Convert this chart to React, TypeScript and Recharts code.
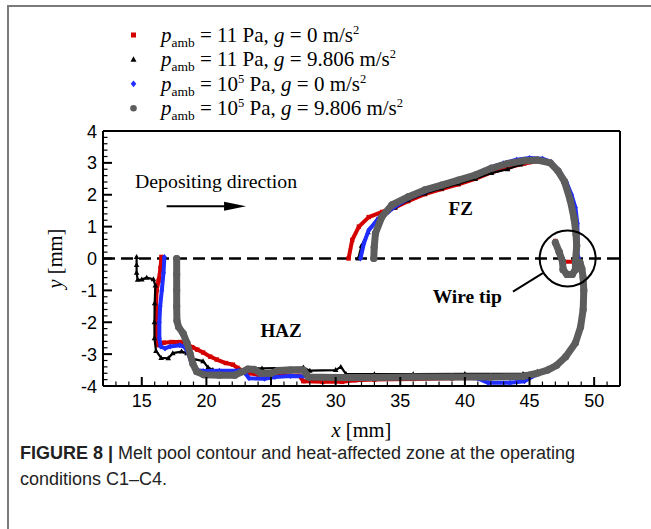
import React from 'react';
import { ScatterChart, Scatter, XAxis, YAxis, ReferenceLine, ReferenceDot, Legend } from 'recharts';

type XY = [number, number];

// ---- series (x [mm], y [mm]) ----
const redC1: XY[] = [
  [16.52, 0.05], [16.45, -0.3], [16.3, -0.7], [16.15, -1.0], [16.1, -1.5], [16.1, -2.0], [16.12, -2.5], [16.28, -2.72],
  [16.7, -2.64], [17.3, -2.62], [17.95, -2.62], [18.45, -2.67], [18.9, -2.78], [19.3, -2.86], [19.75, -2.95], [20.3, -3.08],
  [20.8, -3.17], [21.5, -3.28], [22.05, -3.33], [22.4, -3.43], [22.8, -3.52], [23.2, -3.6], [24.0, -3.64], [25.0, -3.65],
  [26.0, -3.66], [27.2, -3.68], [27.5, -3.85], [29.0, -3.87], [30.5, -3.87], [31.5, -3.82], [33.0, -3.8], [36.0, -3.78],
  [39.0, -3.76], [42.0, -3.75], [44.5, -3.72], [45.6, -3.62], [46.4, -3.52], [47.1, -3.36], [47.8, -3.1], [48.5, -2.68],
  [48.9, -2.2], [49.1, -1.6], [49.15, -1.0], [49.1, -0.6], [49.0, -0.32], [48.85, -0.12], [48.55, -0.12], [48.55, -0.35],
  [48.3, -0.5], [47.9, -0.5], [47.6, -0.35], [47.55, -0.1], [47.3, 0.2], [47.0, 0.55], [47.3, 0.2], [47.55, -0.1],
  [48.55, -0.1], [48.6, 0.4], [48.55, 0.75], [48.4, 1.25], [48.1, 1.83], [47.65, 2.42], [47.15, 2.75], [46.55, 2.98],
  [45.8, 3.06], [45.0, 3.02], [44.6, 2.98], [43.3, 2.85], [42.05, 2.7], [40.8, 2.5], [39.5, 2.33], [38.2, 2.18],
  [36.9, 2.02], [35.6, 1.8], [34.6, 1.6], [33.6, 1.46], [32.56, 1.3], [31.8, 1.0], [31.28, 0.58], [31.0, 0.0],
];

const blackC2: XY[] = [
  [14.6, 0.05], [14.6, -0.2], [14.6, -0.45], [14.68, -0.67], [15.0, -0.66], [15.38, -0.6], [15.9, -0.65], [16.05, -0.85],
  [16.0, -1.4], [15.98, -2.0], [15.98, -2.5], [16.1, -2.9], [16.5, -3.12], [17.05, -3.13], [17.4, -2.97], [18.08, -2.92],
  [18.5, -2.97], [18.97, -3.15], [19.74, -3.22], [20.13, -3.42], [20.5, -3.5], [22.5, -3.52], [23.5, -3.45], [24.3, -3.45],
  [27.5, -3.42], [28.0, -3.52], [30.0, -3.5], [30.4, -3.4], [30.8, -3.62], [33.0, -3.63], [36.0, -3.63], [40.0, -3.62],
  [44.5, -3.62], [45.6, -3.55], [46.4, -3.45], [47.1, -3.3], [47.8, -3.03], [48.5, -2.6], [48.9, -2.15], [49.1, -1.6],
  [49.15, -1.0], [49.1, -0.6], [49.0, -0.32], [48.85, -0.1], [48.65, 0.05], [48.62, 0.5], [48.5, 1.0], [48.35, 1.4],
  [48.1, 1.83], [47.65, 2.42], [47.15, 2.75], [46.55, 2.98], [45.9, 3.07], [45.0, 3.03], [44.3, 2.95], [43.3, 2.8],
  [42.05, 2.68], [40.8, 2.5], [39.5, 2.35], [38.2, 2.2], [36.9, 2.04], [35.6, 1.83], [34.6, 1.6], [34.0, 1.5],
  [33.2, 1.22], [32.5, 0.82], [32.0, 0.4], [31.75, 0.0],
];

const blueC3: XY[] = [
  [16.75, 0.05], [16.68, -0.45], [16.55, -1.0], [16.42, -1.5], [16.36, -2.0], [16.36, -2.5], [16.46, -2.76], [16.8, -2.82],
  [17.2, -2.76], [17.95, -2.72], [18.3, -2.77], [18.6, -2.97], [18.85, -3.29], [19.2, -3.5], [19.75, -3.53], [21.0, -3.52],
  [22.5, -3.52], [23.0, -3.6], [23.3, -3.76], [24.5, -3.77], [25.3, -3.72], [26.5, -3.69], [28.0, -3.7], [31.0, -3.72],
  [35.0, -3.72], [38.0, -3.72], [41.0, -3.76], [41.8, -3.9], [43.5, -3.9], [44.6, -3.85], [45.5, -3.65], [46.4, -3.5],
  [47.1, -3.35], [47.8, -3.08], [48.55, -2.65], [48.95, -2.15], [49.2, -1.6], [49.25, -1.0], [49.2, -0.6], [49.1, -0.32],
  [48.95, -0.12], [48.72, 0.1], [48.72, 0.6], [48.7, 1.1], [48.55, 1.6], [48.25, 2.0], [47.85, 2.4], [47.3, 2.75],
  [46.7, 3.02], [46.0, 3.13], [45.0, 3.15], [44.0, 3.1], [43.0, 2.99], [42.0, 2.86], [40.8, 2.64], [39.5, 2.44],
  [38.2, 2.27], [36.9, 2.1], [35.6, 1.88], [34.6, 1.63], [34.1, 1.47], [33.33, 1.26], [32.56, 0.89], [32.18, 0.47],
  [31.92, 0.0],
];

const grayC4: XY[] = [
  [17.7, 0.0], [17.7, -0.5], [17.7, -1.0], [17.7, -1.5], [17.72, -1.95], [17.85, -2.15], [18.2, -2.35], [18.5, -2.65],
  [18.75, -3.0], [18.95, -3.3], [19.25, -3.55], [19.8, -3.65], [21.0, -3.66], [22.2, -3.66], [22.8, -3.55], [23.2, -3.47],
  [23.7, -3.48], [24.2, -3.6], [25.0, -3.6], [25.5, -3.52], [26.5, -3.5], [27.5, -3.5], [27.9, -3.72], [30.0, -3.73],
  [33.0, -3.73], [36.0, -3.72], [39.0, -3.72], [42.0, -3.72], [44.5, -3.7], [45.6, -3.6], [46.4, -3.5], [47.1, -3.35],
  [47.8, -3.08], [48.55, -2.65], [48.95, -2.15], [49.15, -1.6], [49.2, -1.0], [49.15, -0.6], [49.05, -0.32], [48.9, -0.12],
  [48.55, -0.12], [48.55, -0.35], [48.3, -0.5], [47.9, -0.5], [47.6, -0.35], [47.55, -0.1], [47.3, 0.2], [47.0, 0.5],
  [47.3, 0.2], [47.55, -0.1], [47.6, -0.35], [47.9, -0.5], [48.3, -0.5], [48.55, -0.35], [48.55, -0.1], [48.65, 0.4],
  [48.6, 0.75], [48.45, 1.25], [48.15, 1.83], [47.7, 2.42], [47.2, 2.75], [46.6, 3.0], [45.6, 3.09], [44.6, 3.07],
  [43.3, 2.98], [42.05, 2.83], [40.8, 2.62], [39.5, 2.46], [38.2, 2.3], [36.9, 2.15], [35.64, 1.94], [34.35, 1.68],
  [33.58, 1.31], [33.08, 0.79], [32.98, 0.35], [32.95, 0.0],
];

// ---- axes / labels ----
const xDomain: [number, number] = [12, 52];
const yDomain: [number, number] = [-4, 4];
const xMajorTicks = [15, 20, 25, 30, 35, 40, 45, 50];
const yMajorTicks = [-4, -3, -2, -1, 0, 1, 2, 3, 4];
const legendP = ['11', '11', '10', '10'];
const legendPExp = ['', '', '5', '5'];
const legendG = ['0', '9.806', '0', '9.806'];

const RED = '#d40000';
const BLACK = '#000000';
const BLUE = '#1f2dff';
const GRAY = '#5d5d5d';
const SERIF = '"Liberation Serif", "Times New Roman", serif';
const SANS = '"Liberation Sans", Arial, sans-serif';

const toPts = (a: XY[]) => a.map(([x, y]) => ({ x, y }));

const xTicks: number[] = [];
for (let v = xDomain[0] + 1; v < xDomain[1]; v += 1) xTicks.push(v);
const yTicks: number[] = [];
for (let i = 0; i <= 40; i++) yTicks.push(Math.round((yDomain[0] + i * 0.2) * 10) / 10);

const isInt = (v: number) => Math.abs(v - Math.round(v)) < 1e-6;

const XTick = (props: any) => {
  const { x, y, payload } = props;
  const v = payload.value;
  const major = xMajorTicks.includes(v);
  return (
    <g>
      <line x1={x} x2={x} y1={y} y2={y - (major ? 9 : 4.5)} stroke="#000" strokeWidth={major ? 2 : 1.2} />
      {major && (
        <text x={x} y={y + 21} textAnchor="middle" fontFamily={SANS} fontSize={18} fill="#000">{v}</text>
      )}
    </g>
  );
};

const YTick = (props: any) => {
  const { x, y, payload } = props;
  const v = payload.value;
  const major = isInt(v) && yMajorTicks.includes(Math.round(v));
  return (
    <g>
      <line x1={x} x2={x + (major ? 9 : 4.5)} y1={y} y2={y} stroke="#000" strokeWidth={major ? 2 : 1.2} />
      {major && (
        <text x={x - 6} y={y + 6.5} textAnchor="end" fontFamily={SANS} fontSize={18} fill="#000">{Math.round(v)}</text>
      )}
    </g>
  );
};

const XTitle = (props: any) => {
  const vb = props.viewBox;
  return (
    <text x={vb.x + vb.width / 2} y={vb.y + 51} textAnchor="middle" fontFamily={SERIF} fontSize={20.5} fill="#000">
      <tspan fontStyle="italic">x</tspan>
      <tspan>{' [mm]'}</tspan>
    </text>
  );
};

const YTitle = (props: any) => {
  const vb = props.viewBox;
  const cx = vb.x + 19;
  const cy = vb.y + vb.height / 2;
  return (
    <text x={cx} y={cy} transform={`rotate(-90 ${cx} ${cy})`} textAnchor="middle" fontFamily={SERIF} fontSize={20.5} fill="#000">
      <tspan fontStyle="italic">y</tspan>
      <tspan>{' [mm]'}</tspan>
    </text>
  );
};

const RedSquare = (p: any) => <rect x={p.cx - 2.2} y={p.cy - 2.2} width={4.4} height={4.4} fill={RED} />;
const BlackTri = (p: any) => (
  <polygon points={`${p.cx},${p.cy - 3} ${p.cx - 2.8},${p.cy + 2} ${p.cx + 2.8},${p.cy + 2}`} fill={BLACK} />
);
const BlueDiamond = (p: any) => (
  <polygon points={`${p.cx},${p.cy - 3} ${p.cx + 2.5},${p.cy} ${p.cx},${p.cy + 3} ${p.cx - 2.5},${p.cy}`} fill={BLUE} />
);
const GrayCircle = (p: any) => <circle cx={p.cx} cy={p.cy} r={3.6} fill={GRAY} />;

const legendMarkers = [
  (cx: number, cy: number) => <rect x={cx - 2.5} y={cy - 2.5} width={5} height={5} fill={RED} />,
  (cx: number, cy: number) => <polygon points={`${cx},${cy - 3.2} ${cx - 3},${cy + 2.3} ${cx + 3},${cy + 2.3}`} fill={BLACK} />,
  (cx: number, cy: number) => <polygon points={`${cx},${cy - 3.4} ${cx + 2.8},${cy} ${cx},${cy + 3.4} ${cx - 2.8},${cy}`} fill={BLUE} />,
  (cx: number, cy: number) => <circle cx={cx} cy={cy} r={3.3} fill={GRAY} />,
];

const LegendContent = () => (
  <svg width={651} height={125} style={{ display: 'block' }}>
    {legendP.map((p, i) => {
      const base = 42 + i * 24.4;
      return (
        <g key={i}>
          {legendMarkers[i](133.5, base - 7)}
          <text x={161} y={base} fontFamily={SERIF} fontSize={21} fill="#000">
            <tspan fontStyle="italic">p</tspan>
            <tspan fontSize={13.5} dy={5}>amb</tspan>
            <tspan dy={-5}>{` = ${p}`}</tspan>
            {legendPExp[i] ? <tspan fontSize={12.5} dy={-8}>{legendPExp[i]}</tspan> : null}
            <tspan dy={legendPExp[i] ? 8 : 0}>{' Pa, '}</tspan>
            <tspan fontStyle="italic">g</tspan>
            <tspan>{` = ${legendG[i]} m/s`}</tspan>
            <tspan fontSize={12.5} dy={-8}>2</tspan>
          </text>
        </g>
      );
    })}
  </svg>
);

const TextShape = (label: string, opts: { anchor?: string; bold?: boolean; size?: number }) => (p: any) => (
  <text
    x={p.cx}
    y={p.cy}
    textAnchor={opts.anchor || 'middle'}
    fontFamily={SERIF}
    fontWeight={opts.bold ? 'bold' : 'normal'}
    fontSize={opts.size || 19}
    fill="#000"
  >
    {label}
  </text>
);

const ArrowShape = (p: any) => {
  const { x1, y1, x2, y2 } = p;
  return (
    <g>
      <line x1={x1} y1={y1} x2={x2 - 18} y2={y2} stroke="#000" strokeWidth={2} />
      <polygon points={`${x2},${y2} ${x2 - 22},${y2 - 4.5} ${x2 - 22},${y2 + 4.5}`} fill="#000" />
    </g>
  );
};

export default function App() {
  return (
    <div style={{ position: 'absolute', left: 0, top: 0, width: 651, height: 529, background: '#fff', overflow: 'hidden' }}>
      <div
        style={{
          position: 'absolute', left: 7, top: 5, width: 700, height: 600,
          borderLeft: '2px solid #7a7a7a', borderTop: '2px solid #7a7a7a',
        }}
      />
      <div style={{ position: 'absolute', left: 0, top: 0 }}>
        <ScatterChart width={651} height={529} margin={{ top: 131, right: 31, left: 43, bottom: 113 }}>
          <XAxis
            type="number" dataKey="x" domain={xDomain} ticks={xTicks} interval={0} allowDataOverflow
            tick={<XTick />} tickLine={false} tickSize={0} tickMargin={0} height={30}
            axisLine={{ stroke: '#000', strokeWidth: 2 }} label={XTitle}
          />
          <YAxis
            type="number" dataKey="y" domain={yDomain} ticks={yTicks} interval={0} allowDataOverflow
            tick={<YTick />} tickLine={false} tickSize={0} tickMargin={0} width={60}
            axisLine={{ stroke: '#000', strokeWidth: 2 }} label={YTitle}
          />
          <Legend layout="horizontal" verticalAlign="middle" align="center" content={LegendContent}
            wrapperStyle={{ left: 0, top: 0, width: 651, height: 125 }} />
          <ReferenceLine y={0} stroke="#000" strokeWidth={2.5} strokeDasharray="12 6" />
          <ReferenceLine x={52} stroke="#000" strokeWidth={2} />
          <ReferenceLine y={4} stroke="#000" strokeWidth={2} />
          <Scatter name="C1" data={toPts(redC1)} fill={RED} shape={RedSquare} isAnimationActive={false}
            line={{ stroke: RED, strokeWidth: 4, strokeLinejoin: 'round' }} />
          <Scatter name="C2" data={toPts(blackC2)} fill={BLACK} shape={BlackTri} isAnimationActive={false}
            line={{ stroke: BLACK, strokeWidth: 2.2, strokeLinejoin: 'round' }} />
          <Scatter name="C3" data={toPts(blueC3)} fill={BLUE} shape={BlueDiamond} isAnimationActive={false}
            line={{ stroke: BLUE, strokeWidth: 4, strokeLinejoin: 'round' }} />
          <Scatter name="C4" data={toPts(grayC4)} fill={GRAY} shape={GrayCircle} isAnimationActive={false}
            line={{ stroke: GRAY, strokeWidth: 7, strokeLinejoin: 'round', strokeLinecap: 'round' }} />
          <ReferenceLine segment={[{ x: 16.92, y: 1.64 }, { x: 23.07, y: 1.64 }]} shape={ArrowShape} />
          <ReferenceLine segment={[{ x: 43.72, y: -1.04 }, { x: 46.03, y: -0.46 }]} stroke="#000" strokeWidth={2} />
          <ReferenceDot x={47.95} y={0} r={28} fill="none" stroke="#000" strokeWidth={2} />
          <ReferenceDot x={14.48} y={2.2} shape={TextShape('Depositing direction', { anchor: 'start', size: 19.8 })} />
          <ReferenceDot x={39.68} y={1.36} shape={TextShape('FZ', { bold: true })} />
          <ReferenceDot x={25.77} y={-2.45} shape={TextShape('HAZ', { bold: true })} />
          <ReferenceDot x={40.18} y={-1.39} shape={TextShape('Wire tip', { bold: true, size: 19.5 })} />
        </ScatterChart>
      </div>
      <div
        style={{
          position: 'absolute', left: 20, top: 440, width: 630,
          fontFamily: '"Liberation Sans Narrow", "Liberation Sans", Arial, sans-serif',
          fontSize: 18, lineHeight: '26px', color: '#222', whiteSpace: 'nowrap',
        }}
      >
        <b>FIGURE 8 |</b> Melt pool contour and heat-affected zone at the operating<br />conditions C1–C4.
      </div>
    </div>
  );
}
